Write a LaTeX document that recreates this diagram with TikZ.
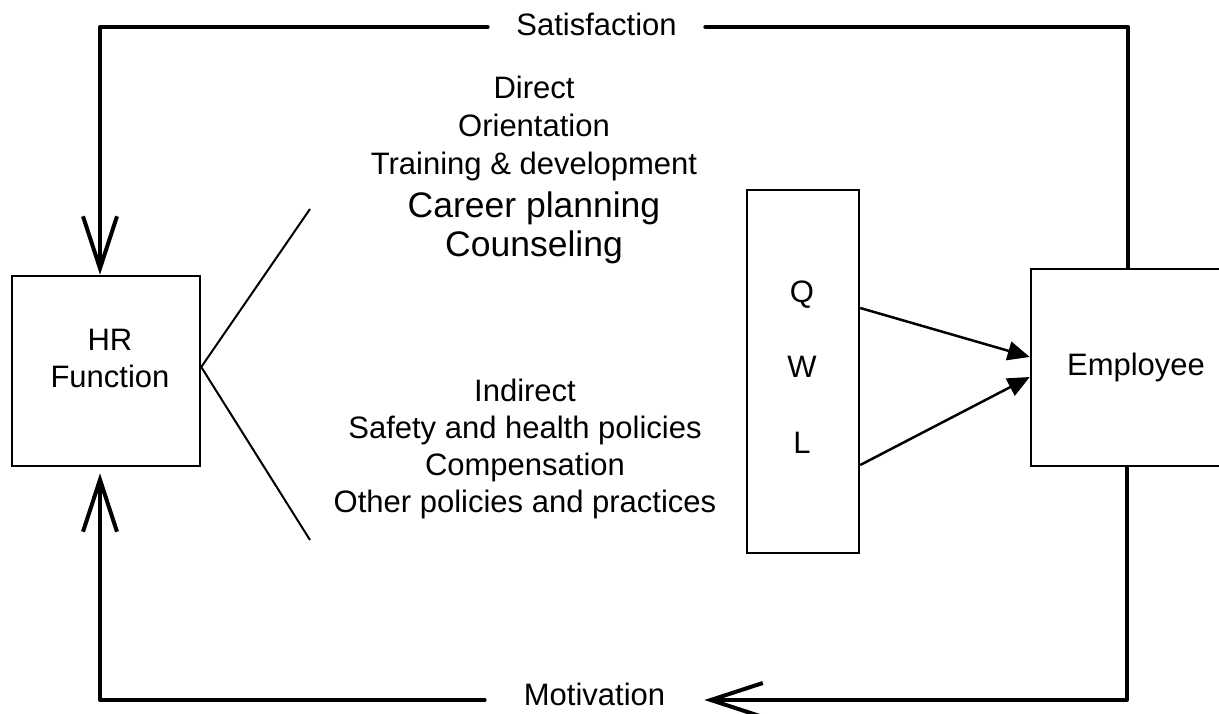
\documentclass[tikz,border=0pt]{standalone}
\usepackage{fontspec}
\setmainfont{Liberation Sans}
\usetikzlibrary{arrows.meta,calc}

\tikzset{
  box/.style={draw, line width=2.5pt, inner sep=0pt},
  txt/.style={anchor=base, inner sep=0pt, font=\fontsize{31}{37}\selectfont},
  bigtxt/.style={anchor=base, inner sep=0pt, font=\fontsize{35.5}{42}\selectfont},
  looplabel/.style={inner ysep=0pt, font=\fontsize{31}{37}\selectfont},
  loopline/.style={line width=4pt, line cap=round, line join=round},
  barb/.style={-{Straight Barb[length=52pt,width=34pt,line width=4pt]}},
  spoke/.style={line width=2pt},
  feed/.style={line width=2.5pt, -{Triangle[length=22pt,width=19pt]}}
}

\begin{document}
\begin{tikzpicture}[x=1pt, y=-1pt]
  \useasboundingbox[fill=white] (0,0) rectangle (1219,714);

  % boxes
  \node[box, minimum width=188pt, minimum height=190pt] (hr) at (106,371) {};
  \node[txt] (hr1) at (110,350) {HR};
  \node[txt] (hr2) at (110,387) {Function};

  \node[box, minimum width=112pt, minimum height=363pt] (qwl) at (803,371.5) {};
  \node[txt] (q) at (802,302) {Q};
  \node[txt] (w) at (802,377) {W};
  \node[txt] (l) at (802,453) {L};

  \node[box, minimum width=214pt, minimum height=197pt] (emp) at (1138,367.5) {};
  \node[txt] (empt) at (1136,375) {Employee};

  % direct activities
  \node[txt] (d1) at (534,99) {Direct};
  \node[txt] (d2) at (534,137) {Orientation};
  \node[txt] (d3) at (534,175) {Training \& development};
  \node[bigtxt] (d4) at (534,218) {Career planning};
  \node[bigtxt] (d5) at (534,257) {Counseling};

  % indirect activities
  \node[txt] (i1) at (525,401) {Indirect};
  \node[txt] (i2) at (525,438) {Safety and health policies};
  \node[txt] (i3) at (525,475) {Compensation};
  \node[txt] (i4) at (525,512) {Other policies and practices};

  % spokes from the HR function
  \coordinate (sptop) at (310,209);
  \coordinate (spbot) at (310,540);
  \draw[spoke] (sptop) -- ($(hr.east)+(0,-4)$) -- (spbot);

  % QWL feeding the employee
  \draw[feed] ($(qwl.east)+(0,-63.5)$) -- ($(emp.west)+(0,-10.5)$);
  \draw[feed] ($(qwl.east)+(0,93.5)$) -- ($(emp.west)+(0,9.5)$);

  % feedback loop
  \coordinate (tl) at (100,27);
  \coordinate (tr) at (1128,27);
  \coordinate (bl) at (100,700);
  \coordinate (br) at (1127,700);
  \node[looplabel, inner xsep=28.5pt] (sat) at (596.5,24) {Satisfaction};
  \node[looplabel, inner xsep=39pt] (mot) at (594.5,694) {Motivation};

  \draw[loopline] (emp.north -| tr) -- (tr) -- (tr -| sat.east);
  \draw[loopline, barb] (tl -| sat.west) -- (tl) -- (hr.north -| tl);
  \draw[loopline, barb] (emp.south -| br) -- (br) -- (br -| mot.east);
  \draw[loopline, barb] (bl -| mot.west) -- (bl) -- ($(hr.south -| bl)+(0,6)$);
\end{tikzpicture}
\end{document}
